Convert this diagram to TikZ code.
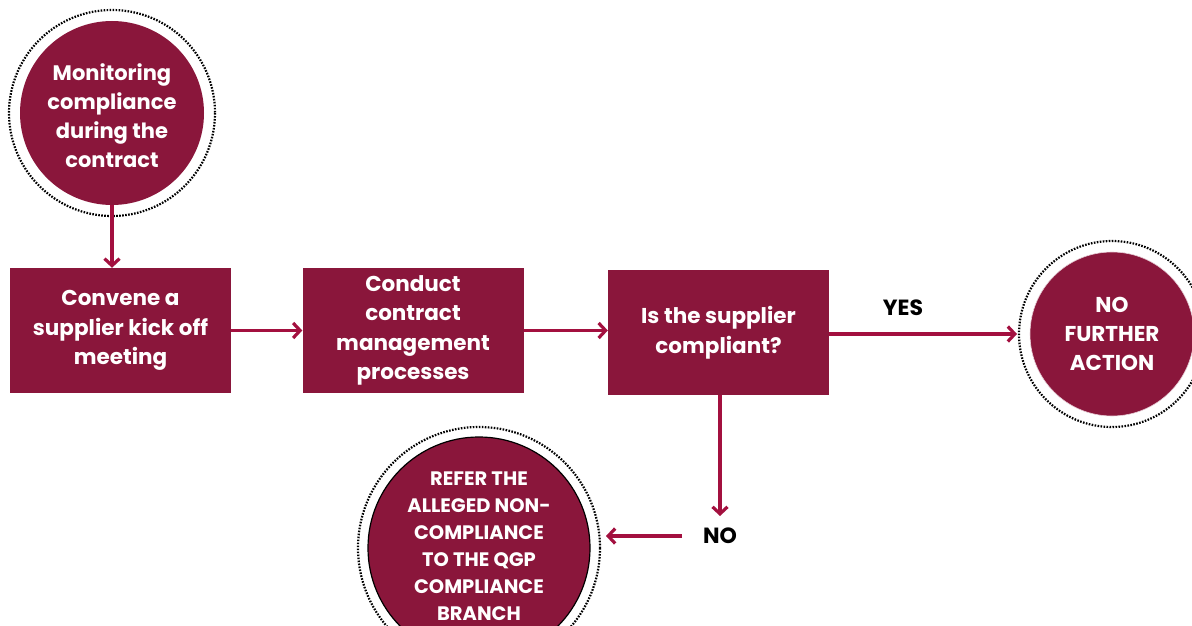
\documentclass[tikz,border=0pt]{standalone}
\usepackage{fontspec}
\setmainfont{Poppins}
\usetikzlibrary{arrows.meta}
\definecolor{wine}{HTML}{8A163B}
\definecolor{arr}{HTML}{A3103F}
\tikzset{
  x=1pt,y=-1pt,
  stepbox/.style={fill=wine,draw=none,minimum width=221pt,minimum height=125pt,inner sep=0pt,text=white,font=\bfseries\fontsize{21.5}{29.5}\selectfont,align=center},
  disc/.style={circle,fill=wine,inner sep=0pt,text=white,align=center},
  ring/.style={draw=black,line width=2.2pt,dash pattern=on 1.6pt off 1.4pt},
  conn/.style={draw=arr,line width=3.2pt,-{Straight Barb[length=7pt,width=15pt,line width=3.2pt]}},
  lbl/.style={font=\bfseries\fontsize{22}{24}\selectfont,text=black}
}
\begin{document}
\begin{tikzpicture}
\useasboundingbox (0,0) rectangle (1192,626);
\clip (0,0) rectangle (1192,626);
% circle 1
\draw[ring] (112,113) circle (103);
\node[disc,minimum size=184pt] (c1) at (112,113) {};
\node[text=white,align=center,font=\bfseries\fontsize{21}{29}\selectfont] (t1) at (112,116) {Monitoring\\compliance\\during the\\contract};
% boxes
\node[stepbox] (b1) at (120.5,330.5) {Convene a\\supplier kick off\\meeting};
\node[stepbox] (b2) at (413,330.5) {Conduct\\contract\\management\\processes};
\node[stepbox] (b3) at (718.5,332.5) {Is the supplier\\compliant?};
% circle 2
\draw[ring] (1112,334) circle (93);
\node[disc,minimum size=164pt,draw=white!80!wine,line width=0.6pt,font=\bfseries\fontsize{21.5}{29}\selectfont] (c2) at (1112,334) {NO\\FURTHER\\ACTION};
\coordinate (r2w) at (1017,334);
% circle 3
\draw[ring] (479,548) circle (121);
\node[disc,minimum size=222pt,draw=black,line width=1.2pt] (c3) at (479,548) {};
\node[text=white,align=center,font=\bfseries\fontsize{19.5}{27}\selectfont] (t3) at (479,546) {REFER THE\\ALLEGED NON-\\COMPLIANCE\\TO THE QGP\\COMPLIANCE\\BRANCH};
\coordinate (r3e) at (606,536);
% labels
\node[lbl] (yes) at (903,308) {YES};
\node[lbl] (no) at (720,536) {NO};
\coordinate (noR) at (682,536);
\coordinate (noT) at (720,516);
% connectors
\draw[conn] (c1.south) -- (c1.south |- b1.north);
\draw[conn] (b1.east) -- (b2.west);
\draw[conn] (b2.east) -- (b2.east -| b3.west);
\draw[conn] (b3.east |- r2w) -- (r2w);
\draw[conn] (b3.south -| noT) -- (noT);
\draw[conn] (noR) -- (r3e);
\end{tikzpicture}
\end{document}
